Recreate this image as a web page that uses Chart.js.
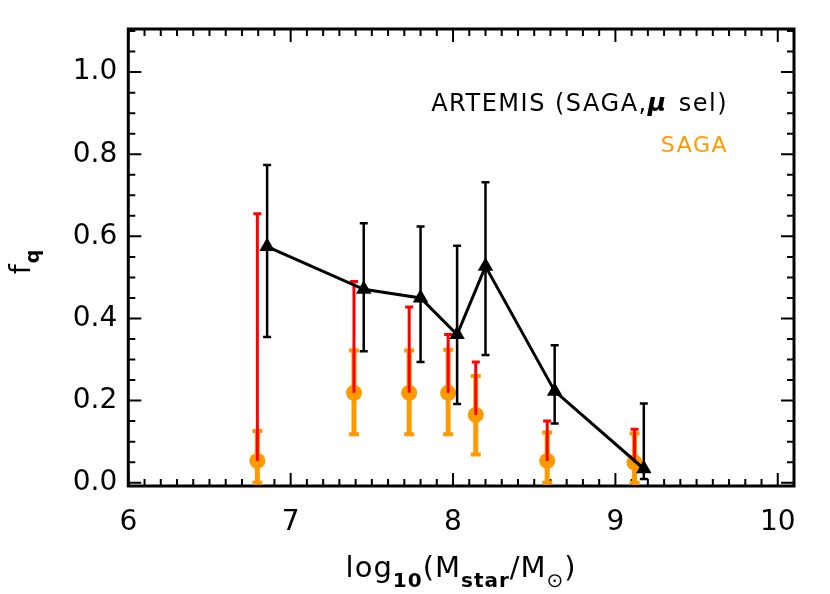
<!DOCTYPE html>
<html><head><meta charset="utf-8">
<script src="https://cdn.jsdelivr.net/npm/chart.js@4/dist/chart.umd.min.js"></script>
<style>html,body{margin:0;padding:0;background:#fff}#c{display:block}</style>
</head><body>
<canvas id="c" width="830" height="594"></canvas>
<script>
// ---- data ----
const xTicks = [6, 7, 8, 9, 10];
const yTicks = [0.0, 0.2, 0.4, 0.6, 0.8, 1.0];

const artemisX  = [6.855, 7.45, 7.80, 8.025, 8.20, 8.626, 9.175];
const artemisY  = [0.575, 0.471, 0.450, 0.361, 0.527, 0.223, 0.034];
const artemisLo = [0.355, 0.320, 0.294, 0.192, 0.311, 0.144, 0.009];
const artemisHi = [0.774, 0.632, 0.624, 0.577, 0.732, 0.335, 0.193];

const sagaX     = [6.795, 7.39, 7.73, 7.97, 8.14, 8.58, 9.118];
const sagaY     = [0.053, 0.219, 0.219, 0.219, 0.165, 0.053, 0.049];
const sagaLo    = [0.0, 0.118, 0.118, 0.118, 0.069, 0.0, 0.0];
const sagaHi    = [0.126, 0.322, 0.322, 0.324, 0.260, 0.122, 0.120];
const sagaUpper = [0.655, 0.490, 0.428, 0.361, 0.294, 0.150, 0.130];

const ORANGE = '#FF9900';
const RED = '#FF0000';
const FONT = 'DejaVu Sans';

function pts(xs, ys) { return xs.map((x, i) => ({x: x, y: ys[i]})); }

function drawBars(chart, xsArr, loArr, hiArr, color, lw, capW, capLw) {
  const ctx = chart.ctx, sx = chart.scales.x, sy = chart.scales.y, a = chart.chartArea;
  ctx.save();
  ctx.beginPath(); ctx.rect(a.left, a.top, a.right - a.left, a.bottom - a.top); ctx.clip();
  ctx.strokeStyle = color; ctx.lineCap = 'butt';
  for (let i = 0; i < xsArr.length; i++) {
    const px = sx.getPixelForValue(xsArr[i]);
    const pl = sy.getPixelForValue(loArr[i]);
    const ph = sy.getPixelForValue(hiArr[i]);
    ctx.lineWidth = lw;
    ctx.beginPath(); ctx.moveTo(px, pl); ctx.lineTo(px, ph); ctx.stroke();
    ctx.lineWidth = capLw;
    ctx.beginPath();
    ctx.moveTo(px - capW / 2, ph); ctx.lineTo(px + capW / 2, ph);
    ctx.moveTo(px - capW / 2, pl); ctx.lineTo(px + capW / 2, pl);
    ctx.stroke();
  }
  ctx.restore();
}

function drawUpper(chart, xsArr, yArr, upArr, color, lw, capW, capLw) {
  const ctx = chart.ctx, sx = chart.scales.x, sy = chart.scales.y, a = chart.chartArea;
  ctx.save();
  ctx.beginPath(); ctx.rect(a.left, a.top, a.right - a.left, a.bottom - a.top); ctx.clip();
  ctx.strokeStyle = color;
  for (let i = 0; i < xsArr.length; i++) {
    const px = sx.getPixelForValue(xsArr[i]);
    const py = sy.getPixelForValue(yArr[i]);
    const pu = sy.getPixelForValue(upArr[i]);
    ctx.lineWidth = lw;
    ctx.beginPath(); ctx.moveTo(px, py); ctx.lineTo(px, pu); ctx.stroke();
    ctx.lineWidth = capLw;
    ctx.beginPath(); ctx.moveTo(px - capW / 2, pu); ctx.lineTo(px + capW / 2, pu); ctx.stroke();
  }
  ctx.restore();
}

const errPlugin = {
  id: 'errbars',
  beforeDatasetDraw(chart, args) {
    const ds = chart.data.datasets[args.index];
    if (ds.id === 'artemis') drawBars(chart, artemisX, artemisLo, artemisHi, '#000', 2.5, 8, 2.5);
    if (ds.id === 'saga') drawBars(chart, sagaX, sagaLo, sagaHi, ORANGE, 5, 10, 4);
  },
  afterDatasetDraw(chart, args) {
    const ds = chart.data.datasets[args.index];
    if (ds.id === 'saga') drawUpper(chart, sagaX, sagaY, sagaUpper, RED, 3, 8, 3);
  }
};

const framePlugin = {
  id: 'frame',
  beforeDatasetsDraw(chart) {
    const ctx = chart.ctx, sx = chart.scales.x, sy = chart.scales.y, a = chart.chartArea;
    ctx.save();
    ctx.strokeStyle = '#000';
    ctx.lineWidth = 2;
    const MJ = 13, MN = 7;
    for (let k = 0; k <= 41; k++) {
      const v = 6 + k * 0.1;
      if (v > sx.max + 1e-9) break;
      const major = Math.abs(v - Math.round(v)) < 1e-6;
      const L = major ? MJ : MN;
      const px = sx.getPixelForValue(v);
      ctx.beginPath();
      ctx.moveTo(px, a.bottom); ctx.lineTo(px, a.bottom - L);
      ctx.moveTo(px, a.top); ctx.lineTo(px, a.top + L);
      ctx.stroke();
    }
    for (let k = 0; k <= 22; k++) {
      const v = k * 0.05;
      if (v > sy.max + 1e-9) break;
      const major = Math.abs(v / 0.2 - Math.round(v / 0.2)) < 1e-6;
      const L = major ? MJ : MN;
      const py = sy.getPixelForValue(v);
      ctx.beginPath();
      ctx.moveTo(a.left, py); ctx.lineTo(a.left + L, py);
      ctx.moveTo(a.right, py); ctx.lineTo(a.right - L, py);
      ctx.stroke();
    }
    ctx.lineWidth = 3;
    ctx.strokeRect(a.left, a.top, a.right - a.left, a.bottom - a.top);
    ctx.restore();
  }
};

function richText(ctx, segs, x, y, align) {
  let w = 0;
  segs.forEach(s => { ctx.font = (s.style || '') + ' ' + s.size + 'px "' + FONT + '"'; s.w = ctx.measureText(s.t).width; w += s.w + (s.gap || 0); });
  let cx = align === 'center' ? x - w / 2 : (align === 'right' ? x - w : x);
  segs.forEach(s => {
    ctx.font = (s.style || '') + ' ' + s.size + 'px "' + FONT + '"';
    ctx.fillText(s.t, cx, y + (s.dy || 0));
    cx += s.w + (s.gap || 0);
  });
}

const textPlugin = {
  id: 'texts',
  afterDraw(chart) {
    const ctx = chart.ctx, a = chart.chartArea;
    ctx.save();
    ctx.fillStyle = '#000';
    ctx.textBaseline = 'alphabetic';
    ctx.textAlign = 'left';
    // x title
    ctx.letterSpacing = '1px';
    richText(ctx, [
      {t: 'log', size: 29},
      {t: '10', size: 20, dy: 10, style: 'bold'},
      {t: '(M', size: 29},
      {t: 'star', size: 20, dy: 10, style: 'bold'},
      {t: '/M', size: 29},
      {t: '\u2299', size: 20, dy: 10},
      {t: ')', size: 29}
    ], (a.left + a.right) / 2, 577, 'center');
    // y title
    ctx.save();
    ctx.translate(30, (a.top + a.bottom) / 2 + 4);
    ctx.rotate(-Math.PI / 2);
    richText(ctx, [{t: 'f', size: 28}, {t: 'q', size: 19, dy: 9, style: 'bold'}], 0, 0, 'center');
    ctx.restore();
    // legend
    ctx.letterSpacing = '1.5px';
    richText(ctx, [
      {t: 'ARTEMIS (SAGA,', size: 24},
      {t: '\u03bc', size: 25, style: 'italic bold', gap: 2},
      {t: ' sel)', size: 24}
    ], 728, 111, 'right');
    ctx.fillStyle = ORANGE;
    richText(ctx, [{t: 'SAGA', size: 22}], 728, 152, 'right');
    ctx.restore();
  }
};

new Chart(document.getElementById('c'), {
  type: 'scatter',
  data: {
    datasets: [
      {
        id: 'artemis', label: 'ARTEMIS (SAGA,\u03bc sel)',
        data: pts(artemisX, artemisY),
        showLine: true, borderColor: '#000', borderWidth: 3,
        pointStyle: 'triangle', pointRadius: 9, pointBackgroundColor: '#000',
        pointBorderColor: '#000', pointBorderWidth: 0, order: 1
      },
      {
        id: 'saga', label: 'SAGA',
        data: pts(sagaX, sagaY),
        showLine: false,
        pointStyle: 'circle', pointRadius: 8, pointBackgroundColor: ORANGE,
        pointBorderColor: ORANGE, pointBorderWidth: 0, order: 2
      }
    ]
  },
  options: {
    responsive: false, animation: false, devicePixelRatio: 1,
    layout: {padding: {top: 29, right: 36, left: 0, bottom: 0}},
    plugins: {legend: {display: false}, tooltip: {enabled: false}},
    scales: {
      x: {
        type: 'linear', min: 6, max: 10.1,
        grid: {display: false, drawTicks: false}, border: {display: false},
        afterBuildTicks: s => { s.ticks = xTicks.map(v => ({value: v})); },
        afterFit: s => { s.height = 108; },
        ticks: {padding: 20, color: '#000', maxRotation: 0, autoSkip: false,
          font: {family: FONT, size: 28}, callback: v => String(v)}
      },
      y: {
        type: 'linear', min: -0.008, max: 1.105,
        grid: {display: false, drawTicks: false}, border: {display: false},
        afterBuildTicks: s => { s.ticks = yTicks.map(v => ({value: v})); },
        afterFit: s => { s.width = 128.3; },
        ticks: {padding: 11, color: '#000', autoSkip: false,
          font: {family: FONT, size: 28}, callback: v => v.toFixed(1)}
      }
    }
  },
  plugins: [framePlugin, errPlugin, textPlugin]
});
</script>
</body></html>
